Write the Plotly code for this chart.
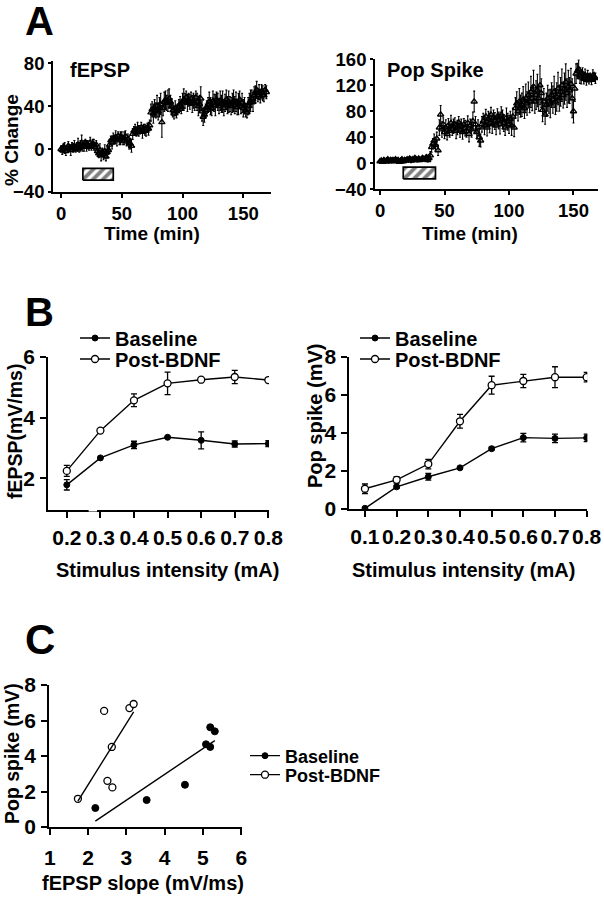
import numpy as np
import plotly.graph_objects as go

# ---------------- DATA ----------------
# Panel A: % change vs time (min), one sample per minute
FEPSP_CHANGE = [
    0, -1, 2, 1, -2, 0, 3, 1, -1, 2,
    1, 3, 0, 2, 4, 1, 3, 6, 2, 3,
    5, 3, 4, 2, 6, 3, 5, 4, 2, 4,
    -2, -4, -1, -6, -3, -5, -2, -7, -3, -1,
    4, 8, 6, 10, 9, 11, 8, 12, 9, 10,
    11, 8, 10, 12, 7, 9, 6, 5, 3, 14,
    17, 18, 16, 19, 17, 18, 20, 16, 19, 18,
    17, 20, 19, 22, 34, 37, 33, 38, 36, 40,
    35, 39, 42, 25, 38, 44, 46, 43, 45, 47,
    44, 40, 36, 33, 38, 35, 37, 40, 42, 39,
    44, 46, 45, 48, 43, 46, 44, 47, 42, 45,
    43, 48, 44, 40, 42, 47, 35, 30, 32, 36,
    39, 41, 44, 40, 38, 45, 43, 41, 46, 44,
    40, 45, 42, 44, 38, 43, 46, 41, 44, 42,
    40, 43, 45, 41, 44, 39, 42, 46, 40, 43,
    38, 41, 36, 34, 40, 43, 45, 47, 44, 50,
    52, 55, 50, 53, 48, 54, 52, 50, 55, 53,
]
FEPSP_ERR = [
    3, 4, 3, 5, 4, 3, 4, 3, 5, 4,
    4, 5, 3, 4, 6, 4, 5, 7, 4, 5,
    4, 5, 4, 3, 5, 4, 4, 5, 3, 4,
    5, 4, 6, 5, 4, 5, 6, 4, 5, 4,
    5, 4, 6, 5, 4, 6, 5, 4, 5, 6,
    5, 4, 6, 5, 4, 5, 6, 5, 6, 5,
    4, 5, 4, 6, 5, 4, 5, 6, 4, 5,
    5, 4, 6, 5, 8, 7, 9, 8, 7, 10,
    8, 9, 10, 14, 7, 9, 8, 7, 10, 9,
    6, 7, 6, 5, 7, 6, 5, 6, 7, 6,
    8, 10, 7, 6, 8, 6, 7, 6, 8, 7,
    7, 6, 8, 9, 8, 11, 9, 8, 7, 6,
    6, 7, 9, 8, 7, 9, 8, 10, 7, 8,
    7, 9, 8, 10, 7, 8, 9, 8, 10, 7,
    8, 9, 10, 8, 9, 7, 10, 8, 7, 9,
    8, 7, 6, 5, 8, 9, 10, 8, 9, 8,
    7, 8, 6, 7, 5, 6, 7, 6, 5, 6,
]
POPSPIKE_CHANGE = [
    3, 4, 2, 5, 3, 4, 6, 3, 5, 4,
    5, 3, 6, 4, 5, 2, 4, 6, 3, 5,
    4, 6, 5, 7, 4, 6, 5, 8, 6, 5,
    7, 5, 6, 8, 6, 7, 9, 5, 8, 12,
    25, 30, 35, 28, 38, 20, 55, 75, 52, 60,
    48, 55, 45, 58, 50, 62, 52, 57, 60, 50,
    55, 63, 52, 58, 48, 60, 54, 50, 62, 45,
    58, 52, 65, 95, 60, 48, 55, 40, 35, 60,
    65, 58, 72, 55, 68, 62, 75, 60, 70, 65,
    58, 72, 66, 60, 75, 68, 62, 55, 70, 64,
    60, 68, 58, 72, 55, 85, 92, 80, 95, 88,
    90, 98, 85, 100, 92, 105, 95, 110, 100, 118,
    95, 105, 112, 100, 120, 108, 82, 95, 75, 90,
    100, 95, 92, 105, 98, 110, 95, 102, 115, 100,
    110, 120, 105, 115, 125, 108, 118, 112, 122, 100,
    80, 115, 138, 142, 145, 135, 132, 138, 130, 136,
    128, 134, 130, 132, 129, 135, 133, 131,
]
POPSPIKE_ERR = [
    2, 3, 2, 3, 2, 3, 2, 3, 2, 3,
    3, 2, 3, 2, 3, 2, 3, 2, 3, 2,
    2, 3, 2, 3, 3, 2, 3, 3, 2, 3,
    3, 2, 3, 3, 2, 3, 4, 3, 4, 6,
    8, 8, 10, 9, 10, 8, 12, 14, 12, 10,
    10, 12, 9, 11, 10, 12, 9, 11, 10, 12,
    11, 9, 12, 10, 11, 9, 12, 10, 11, 12,
    10, 12, 14, 16, 12, 10, 12, 14, 10, 12,
    12, 14, 11, 13, 12, 15, 11, 14, 12, 13,
    14, 12, 13, 15, 12, 14, 13, 12, 15, 13,
    14, 12, 15, 13, 14, 16, 18, 15, 20, 17,
    18, 20, 16, 22, 18, 20, 17, 24, 19, 25,
    18, 22, 25, 20, 30, 22, 18, 20, 15, 18,
    20, 18, 22, 19, 21, 24, 20, 22, 25, 20,
    22, 25, 20, 24, 28, 22, 25, 20, 24, 30,
    18, 20, 15, 12, 14, 12, 10, 9, 8, 9,
    8, 9, 8, 7, 8, 9, 7, 8,
]
TIME_FEPSP = list(range(len(FEPSP_CHANGE)))
TIME_POPSPIKE = list(range(len(POPSPIKE_CHANGE)))
BDNF_PERIOD = [18, 43]  # min

# Panel B: input-output curves
STIM_FEPSP = [0.2, 0.3, 0.4, 0.5, 0.6, 0.7, 0.8]
FEPSP_BASE = [1.78, 2.67, 3.10, 3.35, 3.25, 3.13, 3.14]
FEPSP_BASE_ERR = [0.17, 0.0, 0.12, 0.0, 0.28, 0.10, 0.10]
FEPSP_POST = [2.24, 3.57, 4.57, 5.13, 5.25, 5.34, 5.24]
FEPSP_POST_ERR = [0.18, 0.0, 0.21, 0.37, 0.0, 0.22, 0.07]

STIM_POP = [0.1, 0.2, 0.3, 0.4, 0.5, 0.6, 0.7, 0.8]
POP_BASE = [0.02, 1.15, 1.68, 2.15, 3.16, 3.74, 3.70, 3.73]
POP_BASE_ERR = [0.0, 0.08, 0.18, 0.06, 0.08, 0.22, 0.22, 0.2]
POP_POST = [1.05, 1.52, 2.35, 4.60, 6.50, 6.72, 6.92, 6.92]
POP_POST_ERR = [0.25, 0.17, 0.25, 0.36, 0.47, 0.35, 0.55, 0.25]

# Panel C: pop spike vs fEPSP slope
C_BASE_X = [2.19, 3.53, 4.53, 5.08, 5.19, 5.19, 5.31]
C_BASE_Y = [1.07, 1.52, 2.38, 4.66, 4.51, 5.62, 5.39]
C_POST_X = [1.735, 2.42, 2.505, 2.62, 2.635, 3.08, 3.19]
C_POST_Y = [1.59, 6.54, 2.60, 4.51, 2.23, 6.70, 6.93]

SERIES_NAMES = ["Baseline", "Post-BDNF"]

# ---------------- LAYOUT HELPERS ----------------
W, H = 604, 900
FONT = "Liberation Sans, Arial, Helvetica, sans-serif"


def fx(p):
    return p / W


def fy(p):
    return 1 - p / H


fig = go.Figure()

tri = dict(symbol="triangle-up-open", size=5.5, color="black", line=dict(width=1.4, color="black"))
err_ts = dict(type="data", color="black", thickness=1.1, width=1)

# Panel A left
fig.add_trace(go.Scatter(x=TIME_FEPSP, y=FEPSP_CHANGE, mode="markers", marker=tri,
                         error_y=dict(err_ts, array=FEPSP_ERR),
                         xaxis="x", yaxis="y", showlegend=False))
# Panel A right
fig.add_trace(go.Scatter(x=TIME_POPSPIKE, y=POPSPIKE_CHANGE, mode="markers", marker=tri,
                         error_y=dict(err_ts, array=POPSPIKE_ERR),
                         xaxis="x2", yaxis="y2", showlegend=False))

# Hatched BDNF bars
hatch = dict(shape="/", fgcolor="black", bgcolor="white", size=7, solidity=0.55)
for xa, ya, (lo, hi) in [("x", "y", (-29, -18)), ("x2", "y2", (-24, -6))]:
    t0, t1 = BDNF_PERIOD
    fig.add_trace(go.Scatter(x=[t0, t1, t1, t0, t0], y=[lo, lo, hi, hi, lo], mode="lines",
                             fill="toself", fillcolor="white", fillpattern=hatch,
                             line=dict(color="black", width=1.7),
                             xaxis=xa, yaxis=ya, showlegend=False, hoverinfo="skip"))

# Panel B
filled = dict(symbol="circle", size=6, color="black", line=dict(width=1, color="black"))
opened = dict(symbol="circle", size=7, color="white", line=dict(width=1.3, color="black"))
err_b = dict(type="data", color="black", thickness=1.3, width=3)
for xa, ya, lgs, xs, b, be, p, pe in [
    ("x3", "y3", ("legend", "legend2"), STIM_FEPSP, FEPSP_BASE, FEPSP_BASE_ERR, FEPSP_POST, FEPSP_POST_ERR),
    ("x4", "y4", ("legend3", "legend4"), STIM_POP, POP_BASE, POP_BASE_ERR, POP_POST, POP_POST_ERR),
]:
    fig.add_trace(go.Scatter(x=xs, y=b, mode="lines+markers", name=SERIES_NAMES[0],
                             line=dict(color="black", width=1.4), marker=filled,
                             error_y=dict(err_b, array=be), xaxis=xa, yaxis=ya, legend=lgs[0]))
    fig.add_trace(go.Scatter(x=xs, y=p, mode="lines+markers", name=SERIES_NAMES[1],
                             line=dict(color="black", width=1.4), marker=opened,
                             error_y=dict(err_b, array=pe), xaxis=xa, yaxis=ya, legend=lgs[1]))

# Panel C
fig.add_trace(go.Scatter(x=C_BASE_X, y=C_BASE_Y, mode="markers", marker=dict(filled, size=7),
                         xaxis="x5", yaxis="y5", showlegend=False))
fig.add_trace(go.Scatter(x=C_POST_X, y=C_POST_Y, mode="markers", marker=opened,
                         xaxis="x5", yaxis="y5", showlegend=False))
for xs, ys in [(C_BASE_X, C_BASE_Y), (C_POST_X, C_POST_Y)]:
    k, c = np.polyfit(xs, ys, 1)
    xl = np.array([min(xs), max(xs)])
    fig.add_trace(go.Scatter(x=xl, y=k * xl + c, mode="lines", line=dict(color="black", width=1.4),
                             xaxis="x5", yaxis="y5", showlegend=False, hoverinfo="skip"))
# legend entries for panel C
fig.add_trace(go.Scatter(x=[None], y=[None], mode="lines+markers", name=SERIES_NAMES[0],
                         line=dict(color="black", width=1.3), marker=filled,
                         xaxis="x5", yaxis="y5", legend="legend5"))
fig.add_trace(go.Scatter(x=[None], y=[None], mode="lines+markers", name=SERIES_NAMES[1],
                         line=dict(color="black", width=1.3), marker=opened,
                         xaxis="x5", yaxis="y5", legend="legend6"))

# ---------------- AXES ----------------
base_ax = dict(showline=True, linecolor="black", linewidth=1.7, ticks="outside", tickcolor="black",
               tickwidth=1.6, showgrid=False, zeroline=False, fixedrange=True, automargin=False)

fig.update_layout(
    xaxis=dict(base_ax, domain=[fx(53), fx(271)], range=[-6.6, 172.8], tickvals=[0, 50, 100, 150],
               ticklen=4, ticklabelstandoff=0, anchor="y", tickfont=dict(size=18.5)),
    yaxis=dict(base_ax, domain=[fy(192), fy(61)], range=[-40, 82], tickvals=[-40, 0, 40, 80],
               ticklen=3, ticklabelstandoff=0, anchor="x", tickfont=dict(size=18.5)),
    xaxis2=dict(base_ax, domain=[fx(375), fx(598)], range=[-3.9, 169], tickvals=[0, 50, 100, 150],
                ticklen=4, ticklabelstandoff=0, anchor="y2", tickfont=dict(size=18.5)),
    yaxis2=dict(base_ax, domain=[fy(189.3), fy(59.3)], range=[-40, 160],
                tickvals=[-40, 0, 40, 80, 120, 160], ticklen=3, ticklabelstandoff=0, anchor="x2",
                tickfont=dict(size=18.5)),
    xaxis3=dict(base_ax, domain=[fx(48), fx(269)], range=[0.144, 0.802],
                tickvals=STIM_FEPSP, ticktext=[f"{v:.1f}" for v in STIM_FEPSP],
                ticklen=6, ticklabelstandoff=2, anchor="y3", tickfont=dict(size=21)),
    yaxis3=dict(base_ax, domain=[fy(510), fy(357)], range=[0.95, 6], tickvals=[2, 4, 6],
                ticklen=6, ticklabelstandoff=1, anchor="x3", tickfont=dict(size=21)),
    xaxis4=dict(base_ax, domain=[fx(349.3), fx(587.3)], range=[0.0506, 0.802],
                tickvals=STIM_POP, ticktext=[f"{v:.1f}" for v in STIM_POP],
                ticklen=6, ticklabelstandoff=2, anchor="y4", tickfont=dict(size=21)),
    yaxis4=dict(base_ax, domain=[fy(508.7), fy(356.7)], range=[0, 8], tickvals=[0, 2, 4, 6, 8],
                ticklen=6, ticklabelstandoff=1, anchor="x4", tickfont=dict(size=21)),
    xaxis5=dict(base_ax, domain=[fx(49), fx(242)], range=[0.98, 6.02], tickvals=[1, 2, 3, 4, 5, 6],
                ticklen=6, ticklabelstandoff=5, anchor="y5", tickfont=dict(size=21)),
    yaxis5=dict(base_ax, domain=[fy(827), fy(685)], range=[0, 8], tickvals=[0, 2, 4, 6, 8],
                ticklen=6, ticklabelstandoff=1, anchor="x5", tickfont=dict(size=21)),
)

leg = dict(xanchor="left", yanchor="middle", bgcolor="rgba(0,0,0,0)", borderwidth=0,
           font=dict(size=20, family=FONT, weight="bold", color="black"), tracegroupgap=0,
           itemwidth=30)
legC = dict(leg, font=dict(leg["font"], size=18))
fig.update_layout(
    legend=dict(leg, x=fx(75), y=fy(338)),
    legend2=dict(leg, x=fx(75), y=fy(359)),
    legend3=dict(leg, x=fx(355), y=fy(338)),
    legend4=dict(leg, x=fx(355), y=fy(359)),
    legend5=dict(legC, x=fx(245), y=fy(756)),
    legend6=dict(legC, x=fx(245), y=fy(775)),
)

# ---------------- TEXT ----------------
ann = []


def text(s, x, y, size, angle=0):
    ann.append(dict(text=s, x=fx(x), y=fy(y), xref="paper", yref="paper", showarrow=False,
                    xanchor="center", yanchor="middle", textangle=angle,
                    font=dict(size=size, family=FONT, weight="bold", color="black")))


text("A", 39, 21, 40)
text("B", 39, 312, 40)
text("C", 40, 639, 42)
text("fEPSP", 100, 70, 20)
text("Pop Spike", 435, 70, 20)
text("% Change", 11, 140, 19, -90)
text("Time (min)", 152, 233, 19)
text("Time (min)", 470, 233, 19)
text("fEPSP(mV/ms)", 15, 432, 19.5, -90)
text("Pop spike (mV)", 315, 416, 20, -90)
text("Stimulus intensity (mA)", 167, 570, 20)
text("Stimulus intensity (mA)", 463, 570, 20)
text("Pop spike (mV)", 12, 754, 19.5, -90)
text("fEPSP slope (mV/ms)", 143, 883, 20)

# small break in panel B-left x axis
shapes = [dict(type="line", xref="x3", yref="paper", x0=0.265, x1=0.29, y0=fy(510), y1=fy(510),
               line=dict(color="white", width=3))]

fig.update_layout(
    width=W, height=H, margin=dict(l=0, r=0, t=0, b=0),
    paper_bgcolor="white", plot_bgcolor="white",
    font=dict(family=FONT, weight="bold", color="black", size=16),
    annotations=ann, shapes=shapes, hovermode=False,
)

fig.write_html("out.html", config={"displayModeBar": False},
               post_script="document.body.style.margin='0';")
